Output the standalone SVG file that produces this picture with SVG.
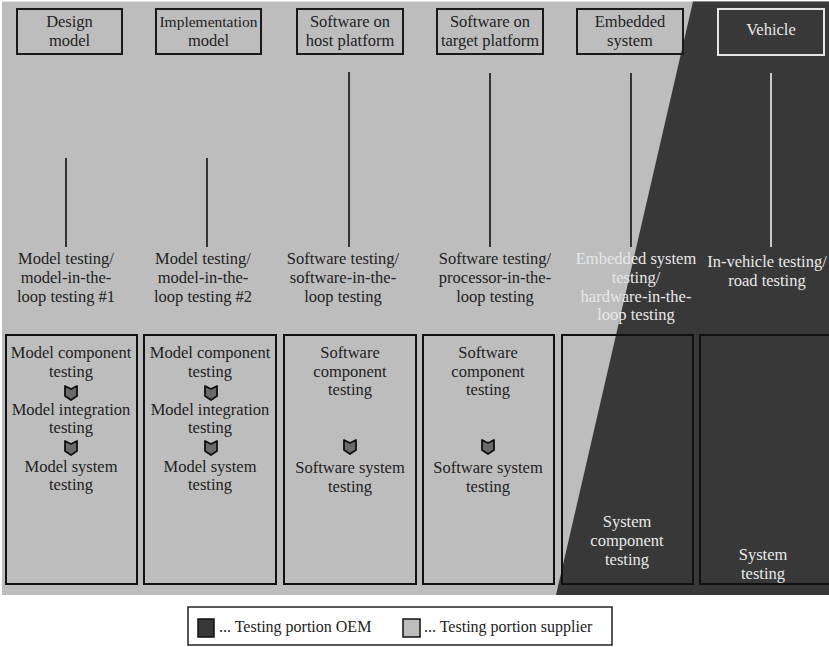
<svg xmlns="http://www.w3.org/2000/svg" width="829" height="647" viewBox="0 0 829 647">
<style>
text{font-family:"Liberation Serif","Times New Roman",serif;font-size:16.5px;fill:#222;text-anchor:middle}
.lt{fill:#e8e8e8}
.hdr{fill:none;stroke:#1a1a1a;stroke-width:2}
.hdrw{fill:none;stroke:#e6e6e6;stroke-width:2}
.col{fill:none;stroke:#111;stroke-width:2}
.ln{stroke:#111;stroke-width:1.6}
.lnw{stroke:#eee;stroke-width:1.6}
.lg{font-size:16px;text-anchor:start}
</style>
<defs>
<path id="chev" d="M-6,-7 L0,-4 L6,-7 L6,3 L0,7 L-6,3 Z" fill="#6a6a6a" stroke="#111" stroke-width="1.8" stroke-linejoin="round"/>
</defs>
<rect x="0" y="0" width="829" height="647" fill="#fff"/>
<rect x="2" y="1.5" width="827" height="593.5" fill="#bdbdbd"/>
<polygon points="693,1.5 829,1.5 829,595 556,595" fill="#383838"/>

<g id="connectors">
<line class="ln" x1="66" y1="158" x2="66" y2="247"/>
<line class="ln" x1="207" y1="158" x2="207" y2="247"/>
<line class="ln" x1="349" y1="72" x2="349" y2="247"/>
<line class="ln" x1="490" y1="73" x2="490" y2="247"/>
<line class="ln" x1="631" y1="73" x2="631" y2="247"/>
<line class="lnw" x1="771" y1="73" x2="771" y2="247"/>
</g>

<g id="design-model"><rect class="hdr" x="17" y="9" width="105" height="45"/><text x="69.5" y="27">Design</text><text x="69.5" y="46">model</text></g>
<g id="implementation-model"><rect class="hdr" x="156" y="9" width="105" height="45"/><text x="208.5" y="27" style="font-size:15.5px">Implementation</text><text x="208.5" y="46">model</text></g>
<g id="software-host"><rect class="hdr" x="297" y="9" width="106" height="45"/><text x="350" y="27">Software on</text><text x="350" y="46">host platform</text></g>
<g id="software-target"><rect class="hdr" x="437" y="9" width="106" height="45"/><text x="490" y="27">Software on</text><text x="490" y="46">target platform</text></g>
<g id="embedded-system"><rect class="hdr" x="577" y="9" width="106" height="45"/><text x="630" y="27">Embedded</text><text x="630" y="46">system</text></g>
<g id="vehicle"><rect class="hdrw" x="718" y="9" width="106" height="46"/><text class="lt" x="771" y="35">Vehicle</text></g>

<g id="label-mil1"><text x="66" y="264">Model testing/</text><text x="66" y="283">model-in-the-</text><text x="66" y="302">loop testing #1</text></g>
<g id="label-mil2"><text x="203" y="264">Model testing/</text><text x="203" y="283">model-in-the-</text><text x="203" y="302">loop testing #2</text></g>
<g id="label-sil"><text x="343" y="264">Software testing/</text><text x="343" y="283">software-in-the-</text><text x="343" y="302">loop testing</text></g>
<g id="label-pil"><text x="495" y="264">Software testing/</text><text x="495" y="283">processor-in-the-</text><text x="495" y="302">loop testing</text></g>
<g id="label-hil"><text class="lt" x="636" y="264">Embedded system</text><text class="lt" x="636" y="283">testing/</text><text class="lt" x="636" y="302">hardware-in-the-</text><text class="lt" x="636" y="320">loop testing</text></g>
<g id="label-road"><text class="lt" x="767" y="267">In-vehicle testing/</text><text class="lt" x="767" y="286">road testing</text></g>

<g id="col-model1"><rect class="col" x="6" y="335" width="131" height="249"/>
<text x="71" y="358">Model component</text><text x="71" y="377">testing</text>
<use href="#chev" x="71" y="393"/>
<text x="71" y="415">Model integration</text><text x="71" y="433">testing</text>
<use href="#chev" x="71" y="448"/>
<text x="71" y="472">Model system</text><text x="71" y="490">testing</text></g>

<g id="col-model2"><rect class="col" x="144" y="335" width="132" height="249"/>
<text x="210" y="358">Model component</text><text x="210" y="377">testing</text>
<use href="#chev" x="211" y="393"/>
<text x="210" y="415">Model integration</text><text x="210" y="433">testing</text>
<use href="#chev" x="211" y="448"/>
<text x="210" y="472">Model system</text><text x="210" y="490">testing</text></g>

<g id="col-software-host"><rect class="col" x="284" y="335" width="132" height="249"/>
<text x="350" y="358">Software</text><text x="350" y="377">component</text><text x="350" y="395">testing</text>
<use href="#chev" x="350" y="447"/>
<text x="350" y="473">Software system</text><text x="350" y="492">testing</text></g>

<g id="col-software-target"><rect class="col" x="423" y="335" width="131" height="249"/>
<text x="488" y="358">Software</text><text x="488" y="377">component</text><text x="488" y="395">testing</text>
<use href="#chev" x="488" y="447"/>
<text x="488" y="473">Software system</text><text x="488" y="492">testing</text></g>

<g id="col-system-component"><rect class="col" x="562" y="335" width="131" height="249"/>
<text class="lt" x="627" y="527">System</text><text class="lt" x="627" y="546">component</text><text class="lt" x="627" y="565">testing</text></g>

<g id="col-system"><rect class="col" x="700" y="335" width="132" height="249"/>
<text class="lt" x="763" y="560">System</text><text class="lt" x="763" y="579">testing</text></g>

<g id="legend"><rect x="188" y="607" width="424" height="38" fill="#fff" stroke="#222" stroke-width="1.5"/>
<rect x="198" y="619" width="16" height="18" fill="#383838" stroke="#111" stroke-width="1.5"/>
<text class="lg" x="219" y="632">... Testing portion OEM</text>
<rect x="403" y="619" width="17" height="18" fill="#bdbdbd" stroke="#111" stroke-width="1.5"/>
<text class="lg" x="424" y="632">... Testing portion supplier</text></g>
</svg>
